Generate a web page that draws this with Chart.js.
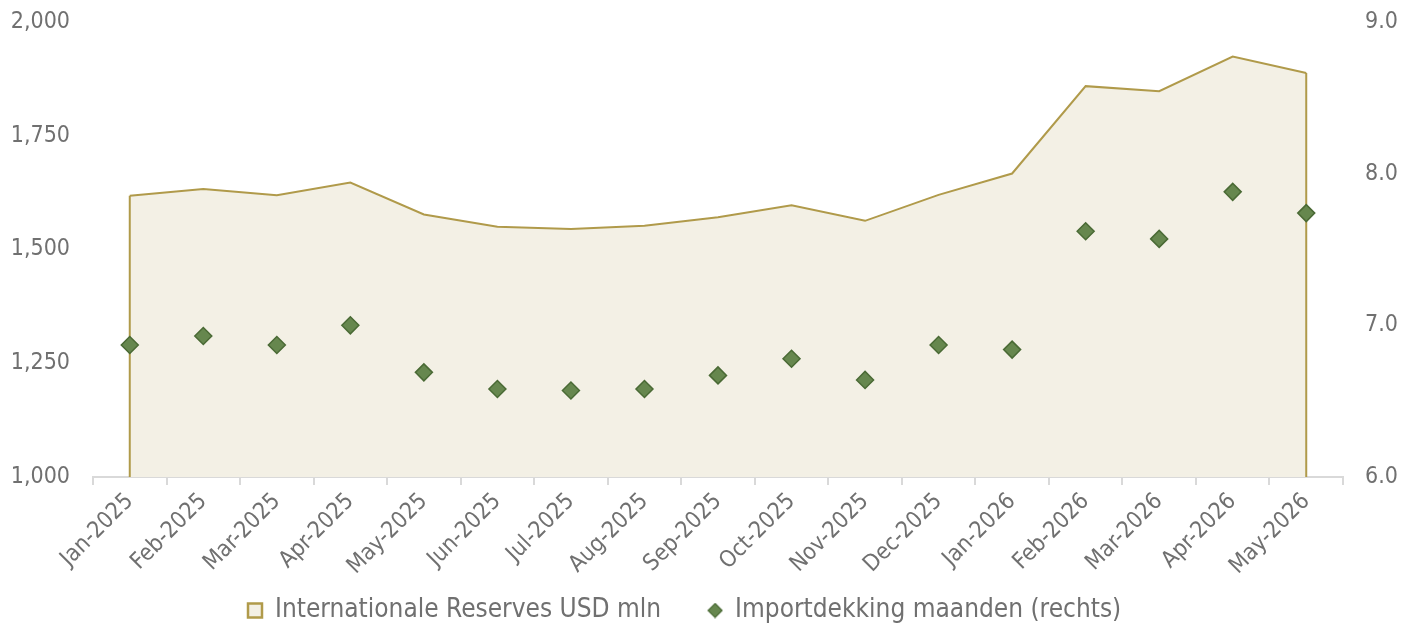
<!DOCTYPE html>
<html><head><meta charset="utf-8">
<script src="https://cdn.jsdelivr.net/npm/chart.js@4/dist/chart.umd.min.js"></script>
<style>html,body{margin:0;padding:0;background:#fff;} canvas{display:block;}</style>
</head><body>
<canvas id="c" width="1415" height="623"></canvas>
<script>
const categories = ['Jan-2025','Feb-2025','Mar-2025','Apr-2025','May-2025','Jun-2025','Jul-2025','Aug-2025','Sep-2025','Oct-2025','Nov-2025','Dec-2025','Jan-2026','Feb-2026','Mar-2026','Apr-2026','May-2026'];
const reserves = [1618,1633,1619,1647,1577,1550,1545,1552,1571,1597,1563,1620,1667,1859,1848,1924,1888];
const importCover = [6.87,6.93,6.87,7.00,6.69,6.58,6.57,6.58,6.67,6.78,6.64,6.87,6.84,7.62,7.57,7.88,7.74];
const leftTicks = [1000,1250,1500,1750,2000];
const rightTicks = [6,7,8,9];
const seriesNames = ['Internationale Reserves USD mln','Importdekking maanden (rechts)'];

const FONT = '"DejaVu Sans Condensed", "DejaVu Sans", sans-serif';
const TEXT = '#707070';
const GOLD = '#B09A4A';
const FILL = '#F3F0E5';
const GREEN = '#66874E';
const DGREEN = '#4A6A35';
const LEG_PAD = 47;

// small diamond marker used as legend symbol
const legendDiamond = (() => {
  const c = document.createElement('canvas');
  c.width = 16; c.height = 16;
  const g = c.getContext('2d');
  g.beginPath();
  g.moveTo(8, 1); g.lineTo(15, 8); g.lineTo(8, 15); g.lineTo(1, 8); g.closePath();
  g.fillStyle = GREEN; g.fill();
  g.lineWidth = 1.2; g.strokeStyle = DGREEN; g.stroke();
  return c;
})();

const edgePlugin = {
  id: 'edges',
  afterDatasetDraw(chart, args) {
    if (args.index !== 0) return;
    const pts = chart.getDatasetMeta(0).data;
    const y = chart.scales.y;
    const bottom = y.getPixelForValue(y.min);
    const ctx = chart.ctx;
    ctx.save();
    ctx.strokeStyle = GOLD; ctx.lineWidth = 2;
    [pts[0], pts[pts.length - 1]].forEach(p => {
      ctx.beginPath(); ctx.moveTo(p.x, p.y); ctx.lineTo(p.x, bottom); ctx.stroke();
    });
    ctx.restore();
  }
};

const legendPos = {
  id: 'legendPos',
  afterLayout(chart) {
    const lg = chart.legend;
    if (!lg || !lg.lineWidths) return;
    lg.right = 2 * 248 - lg.left - LEG_PAD + lg.lineWidths[0];
    lg.top = 610.5 - 13 - LEG_PAD;
  }
};

new Chart(document.getElementById('c'), {
  type: 'line',
  data: {
    labels: categories,
    datasets: [
      {
        label: seriesNames[0], data: reserves, yAxisID: 'y', order: 1,
        borderColor: GOLD, borderWidth: 2, backgroundColor: FILL,
        fill: 'start', pointRadius: 0, tension: 0
      },
      {
        label: seriesNames[1], data: importCover, yAxisID: 'y1', order: 0,
        showLine: false, pointStyle: 'rectRot', pointRadius: 8.5,
        pointBackgroundColor: GREEN, pointBorderColor: DGREEN, pointBorderWidth: 1.5,
        borderColor: DGREEN, backgroundColor: GREEN
      }
    ]
  },
  options: {
    responsive: false, animation: false,
    layout: { padding: { top: 22, left: 0, right: 0, bottom: 0 } },
    plugins: {
      tooltip: { enabled: false },
      legend: {
        position: 'bottom', maxHeight: 46,
        labels: {
          usePointStyle: true, boxWidth: 14, boxHeight: 14, padding: LEG_PAD,
          color: TEXT, font: { family: FONT, size: 26 },
          generateLabels(chart) {
            return chart.data.datasets.map((ds, i) => ({
              text: ds.label, datasetIndex: i, hidden: false, fontColor: TEXT,
              fillStyle: i === 0 ? FILL : GREEN,
              strokeStyle: i === 0 ? GOLD : DGREEN,
              lineWidth: i === 0 ? 2.5 : 1.5,
              pointStyle: i === 0 ? 'rect' : legendDiamond
            }));
          }
        }
      }
    },
    scales: {
      x: {
        offset: true,
        grid: { display: true, offset: true, drawOnChartArea: false, drawTicks: true, tickLength: 8, color: '#D9D9D9', lineWidth: 2 },
        border: { display: true, color: '#D9D9D9', width: 2 },
        ticks: { color: TEXT, font: { family: FONT, size: 23 }, maxRotation: 45, minRotation: 45, padding: 3, autoSkip: false },
        afterFit(s) { s.height = 100; }
      },
      y: {
        position: 'left', min: 1000, max: 2000,
        grid: { display: false, drawTicks: false }, border: { display: false },
        ticks: { color: TEXT, font: { family: FONT, size: 23 }, padding: 23,
          callback: v => v.toLocaleString('en-US') },
        afterBuildTicks(s) { s.ticks = leftTicks.map(v => ({ value: v })); },
        afterFit(s) { s.width = 93; s.paddingTop = 0; s.paddingBottom = 0; }
      },
      y1: {
        position: 'right', min: 6, max: 9,
        grid: { display: false, drawTicks: false }, border: { display: false },
        ticks: { color: TEXT, font: { family: FONT, size: 23 }, padding: 22,
          callback: v => Number(v).toFixed(1) },
        afterBuildTicks(s) { s.ticks = rightTicks.map(v => ({ value: v })); },
        afterFit(s) { s.width = 72; s.paddingTop = 0; s.paddingBottom = 0; }
      }
    }
  },
  plugins: [edgePlugin, legendPos]
});
</script>
</body></html>
